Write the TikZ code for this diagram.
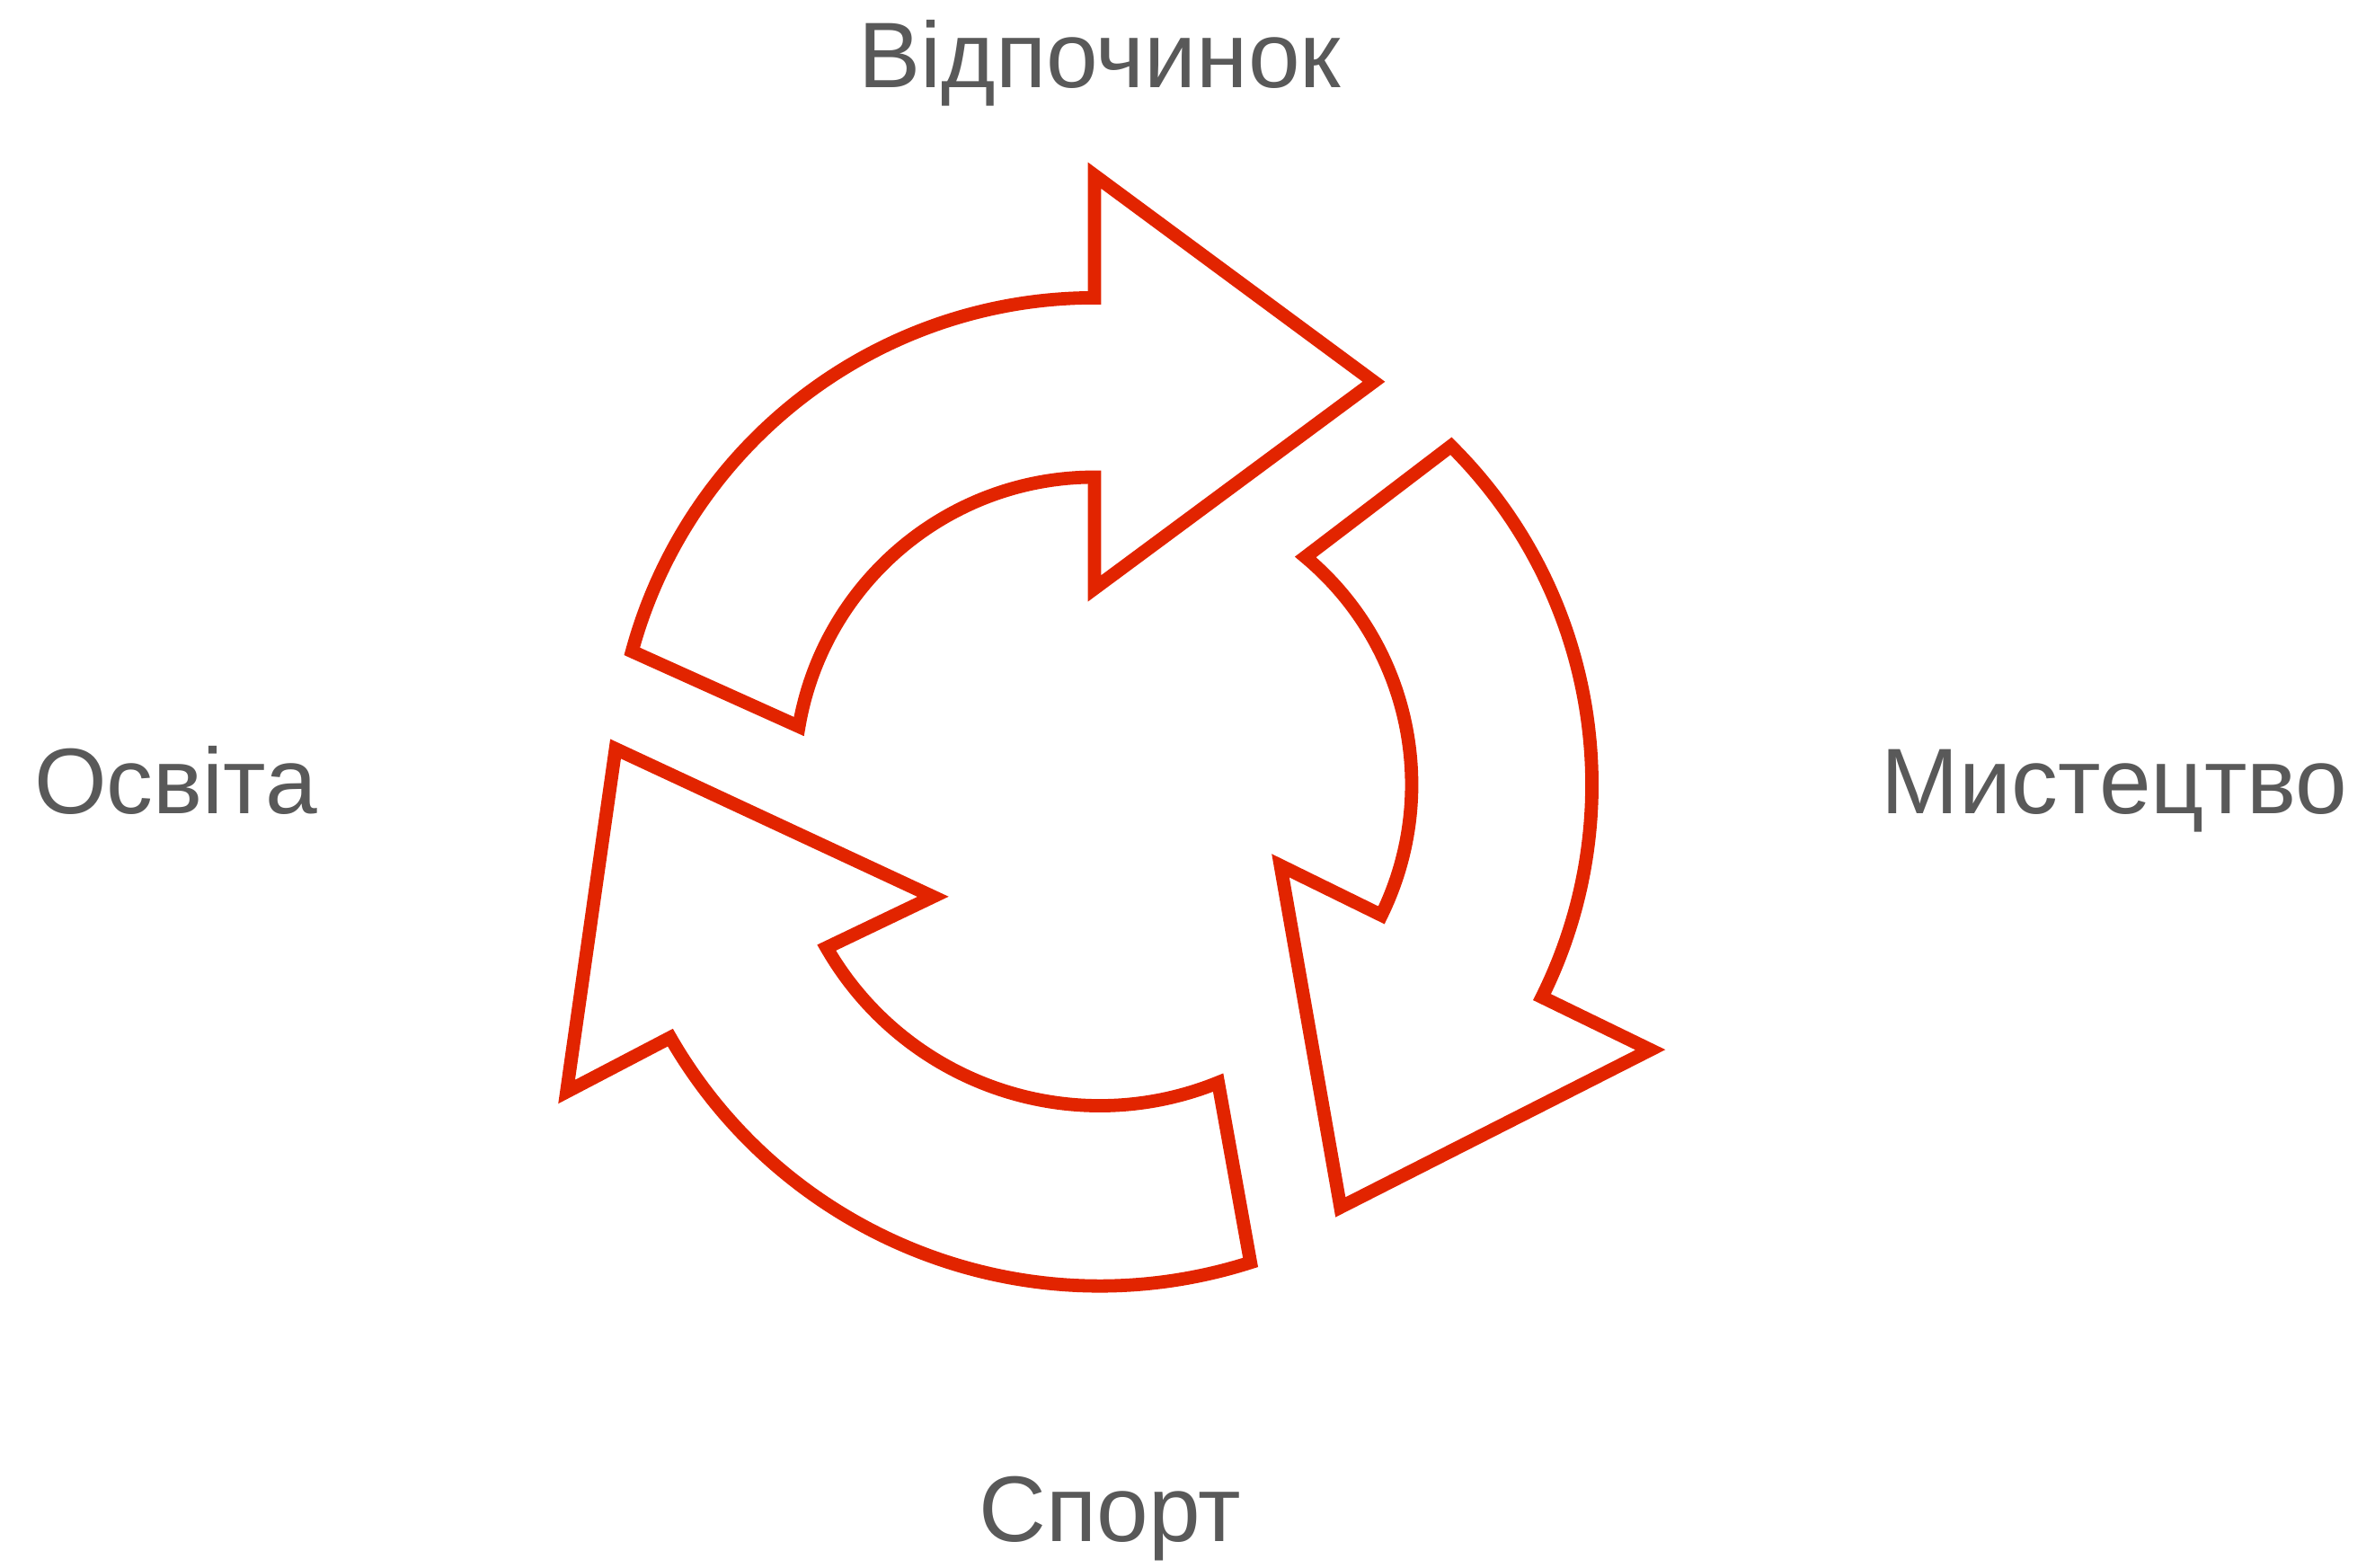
\documentclass[tikz,border=0pt]{standalone}
\usepackage{fontspec}
\setmainfont{Liberation Sans}
\usepackage{tikz}
\usepackage{xcolor}
\definecolor{cycred}{RGB}{226,36,0}
\definecolor{labgray}{RGB}{89,89,89}

\begin{document}
\begin{tikzpicture}
\tikzstyle{every node}+=[inner sep=0pt]
\tikzstyle{cycarrow}=[draw=cycred, line width=2.5pt, line join=miter]
\tikzstyle{cyclabel}=[text=labgray, anchor=base, font=\fontsize{17.5}{21}\selectfont]
\useasboundingbox (0,0) rectangle (15.68,-10.35);
\draw [cycarrow] (4.1726,-4.3004) arc (164.8:90:3.164) -- (7.226,-1.158) -- (9.07,-2.52) -- (7.226,-3.885) -- (7.226,-3.150) arc (90:170.3:1.98) -- cycle;
\draw [cycarrow] (9.5796,-2.9449) arc (45.2:-26.45:3.15) -- (10.896,-6.931) -- (8.85,-7.97) -- (8.454,-5.715) -- (9.120,-6.042) arc (-26.1:50.05:1.96) -- cycle;
\draw [cycarrow] (8.2558,-8.3347) arc (-72.27:-150.1:3.27) -- (3.741,-7.208) -- (4.064,-4.944) -- (6.16,-5.92) -- (5.4568,-6.2567) arc (-150.1:-67.9:2.08) -- cycle;
\node [cyclabel] (rest) at (7.26,-0.58) {Відпочинок};
\node [cyclabel] (art) at (13.96,-5.37) {Мистецтво};
\node [cyclabel] (sport) at (7.33,-10.18) {Спорт};
\node [cyclabel] (edu) at (1.16,-5.37) {Освіта};
\end{tikzpicture}
\end{document}
